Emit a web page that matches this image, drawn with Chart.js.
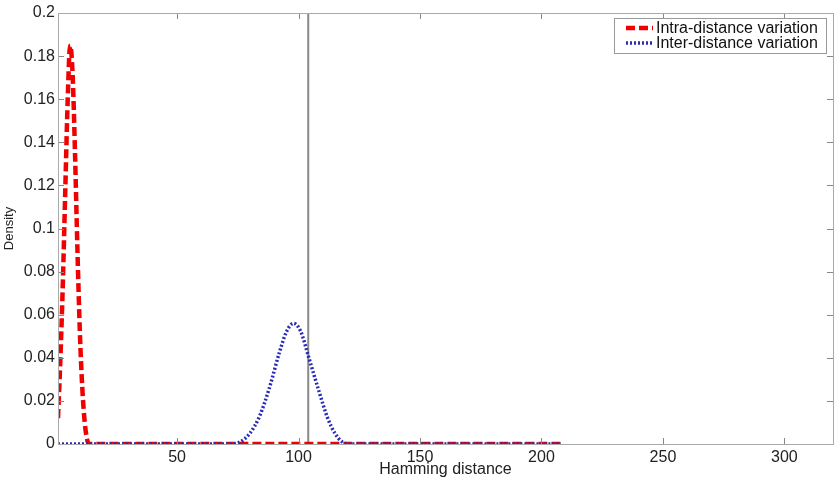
<!DOCTYPE html>
<html>
<head>
<meta charset="utf-8">
<script src="https://cdn.jsdelivr.net/npm/chart.js@4/dist/chart.umd.min.js"></script>
<style>
  html, body { margin: 0; padding: 0; background: #fff; }
  #wrap { width: 840px; height: 480px; }
</style>
</head>
<body>
<div id="wrap"><canvas id="densityChart" width="840" height="480"></canvas></div>
<script>
// intra-distance (genuine) density
const intraX = [1, 2, 3, 4, 5, 6, 7, 8, 9, 10, 11, 12, 13, 14, 208];
const intraY = [0.012, 0.04, 0.075, 0.118, 0.16, 0.185, 0.172, 0.135, 0.09, 0.052, 0.026, 0.01, 0.002, 0, 0];

// inter-distance (impostor) density
const interX = [1, 72, 76, 80, 84, 88, 92, 95, 98, 101, 104, 108, 112, 115, 118, 122, 208];
const interY = [0, 0, 0.001, 0.005, 0.013, 0.026, 0.042, 0.052, 0.056, 0.052, 0.041, 0.026, 0.012, 0.005, 0.001, 0, 0];

const threshold = 104;
const xTicks = [50, 100, 150, 200, 250, 300];
const yTicks = [0, 0.02, 0.04, 0.06, 0.08, 0.1, 0.12, 0.14, 0.16, 0.18, 0.2];

const labels = ["Intra-distance variation", "Inter-distance variation"];

const FONT = "'Liberation Sans', Arial, sans-serif";

function toPoints(xs, ys) {
  return xs.map((x, i) => ({ x: x, y: ys[i] }));
}

// matlab style ticks pointing inwards on all four sides
const insideTicks = {
  id: "insideTicks",
  afterDraw(chart) {
    const ctx = chart.ctx;
    const a = chart.chartArea;
    const xs = chart.scales.x;
    const ys = chart.scales.y;
    ctx.save();
    ctx.strokeStyle = "#888";
    ctx.lineWidth = 1;
    ctx.beginPath();
    xTicks.forEach((v) => {
      const px = Math.round(xs.getPixelForValue(v)) + 0.5;
      ctx.moveTo(px, a.bottom);
      ctx.lineTo(px, a.bottom - 6);
      ctx.moveTo(px, a.top);
      ctx.lineTo(px, a.top + 6);
    });
    yTicks.forEach((v) => {
      const py = Math.round(ys.getPixelForValue(v)) + 0.5;
      ctx.moveTo(a.left, py);
      ctx.lineTo(a.left + 6, py);
      ctx.moveTo(a.right, py);
      ctx.lineTo(a.right - 6, py);
    });
    ctx.stroke();
    // box
    ctx.strokeStyle = "#aaa";
    ctx.strokeRect(a.left + 0.5, a.top + 0.5, a.right - a.left, a.bottom - a.top);
    ctx.restore();
  },
};

// legend box in the top right corner
const boxLegend = {
  id: "boxLegend",
  afterDraw(chart) {
    const ctx = chart.ctx;
    const x0 = 614, y0 = 18, w = 212, h = 35;
    ctx.save();
    ctx.fillStyle = "#fff";
    ctx.fillRect(x0, y0, w, h);
    ctx.strokeStyle = "#999";
    ctx.lineWidth = 1;
    ctx.strokeRect(x0 + 0.5, y0 + 0.5, w, h);
    ctx.font = "16px " + FONT;
    ctx.textBaseline = "middle";
    ctx.fillStyle = "#111";
    [0, 1].forEach((i) => {
      const ds = chart.data.datasets[i];
      const yy = y0 + 10 + i * 15;
      ctx.strokeStyle = ds.borderColor;
      ctx.lineWidth = ds.borderWidth;
      ctx.setLineDash(ds.borderDash);
      ctx.beginPath();
      ctx.moveTo(x0 + 12, yy);
      ctx.lineTo(x0 + 39, yy);
      ctx.stroke();
      ctx.setLineDash([]);
      ctx.fillText(labels[i], x0 + 42, yy + 1);
    });
    ctx.restore();
  },
};

const config = {
  type: "line",
  data: {
    datasets: [
      {
        label: labels[0],
        data: toPoints(intraX, intraY),
        borderColor: "#f00000",
        borderWidth: 4.5,
        borderDash: [9, 4],
        pointRadius: 0,
        cubicInterpolationMode: "monotone",
        order: 2,
      },
      {
        label: labels[1],
        data: toPoints(interX, interY),
        borderColor: "#2a2ab8",
        borderWidth: 3.5,
        borderDash: [2, 2],
        pointRadius: 0,
        cubicInterpolationMode: "monotone",
        order: 1,
      },
      {
        label: "threshold",
        data: [{ x: threshold, y: 0 }, { x: threshold, y: 0.2 }],
        borderColor: "#888",
        borderWidth: 2,
        pointRadius: 0,
        order: 3,
      },
    ],
  },
  options: {
    responsive: false,
    animation: false,
    layout: { padding: { top: 13, right: 7, left: 0, bottom: 0 } },
    plugins: {
      legend: { display: false },
      tooltip: { enabled: false },
    },
    scales: {
      x: {
        type: "linear",
        min: 1,
        max: 320,
        afterBuildTicks: (s) => { s.ticks = xTicks.map((v) => ({ value: v })); },
        afterFit: (s) => { s.height = 36; },
        grid: { display: false, drawTicks: false },
        border: { display: false },
        ticks: {
          color: "#222",
          padding: 4,
          font: { family: FONT, size: 16 },
        },
        title: {
          display: true,
          text: "Hamming distance",
          color: "#222",
          padding: { top: 0, bottom: 1 },
          font: { family: FONT, size: 16 },
        },
      },
      y: {
        min: 0,
        max: 0.2,
        afterBuildTicks: (s) => { s.ticks = yTicks.map((v) => ({ value: v })); },
        afterFit: (s) => { s.width = 58; },
        grid: { display: false, drawTicks: false },
        border: { display: false },
        ticks: {
          color: "#222",
          padding: 3,
          callback: (v) => String(Number(v.toFixed(2))),
          font: { family: FONT, size: 16 },
        },
        title: {
          display: true,
          text: "Density",
          color: "#222",
          padding: { top: 2, bottom: 0 },
          font: { family: FONT, size: 13 },
        },
      },
    },
  },
  plugins: [insideTicks, boxLegend],
};

const ctx = document.getElementById("densityChart").getContext("2d");
new Chart(ctx, config);
</script>
</body>
</html>
